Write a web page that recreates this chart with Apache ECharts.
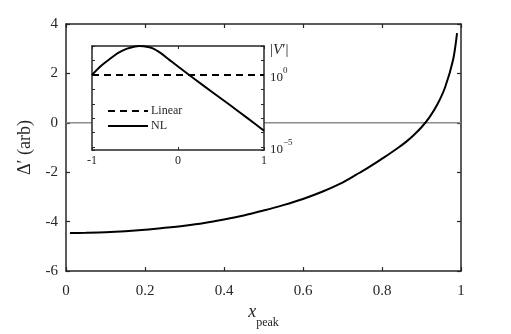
<!DOCTYPE html>
<html>
<head>
<meta charset="utf-8">
<script src="https://cdn.jsdelivr.net/npm/echarts@6/dist/echarts.min.js"></script>
<style>
  html, body { margin: 0; padding: 0; background: #fff; }
  #main { width: 511px; height: 334px; }
</style>
</head>
<body>
<div id="main"></div>
<script>
// main curve: Delta' vs x_peak
var xPeak = [0.01, 0.05, 0.1, 0.15, 0.2, 0.25, 0.3, 0.35, 0.4, 0.45, 0.5, 0.55, 0.6, 0.65, 0.7,
             0.72, 0.74, 0.76, 0.78, 0.8, 0.82, 0.84, 0.86, 0.88, 0.9, 0.92, 0.94, 0.96, 0.98, 0.99];
var deltaP = [-4.46, -4.45, -4.43, -4.39, -4.33, -4.25, -4.16, -4.05, -3.91, -3.75, -3.55, -3.33, -3.08, -2.78, -2.42,
              -2.24, -2.05, -1.86, -1.66, -1.45, -1.24, -1.02, -0.78, -0.5, -0.18, 0.22, 0.74, 1.45, 2.55, 3.63];
var zeroX = [0, 1];
var zeroY = [0, 0];

// inset: |V'| (log) vs x
var insetX = [-1, -0.9, -0.8, -0.7, -0.6, -0.5, -0.45, -0.4, -0.3, -0.2, -0.1, 0, 0.2, 0.4, 0.6, 0.8, 1];
var nlV = [1, 4, 11.7, 32, 63, 93, 100, 95, 71, 32, 11, 3.8, 0.48, 0.063, 0.0085, 0.0011, 1.35e-4];
var linX = [-1, 1];
var linV = [1, 1];

function pairs(a, b) {
    return a.map(function(v, i) { return [v, b[i]]; });
}

var ink = '#262626';
var serif = 'Liberation Serif';

var chart = echarts.init(document.getElementById('main'));

var option = {
    backgroundColor: '#fff',
    animation: false,
    textStyle: { fontFamily: serif, color: ink },
    grid: [
        { left: 66, top: 24, width: 395, height: 254, show: false },
        { left: 92, top: 46, width: 172, height: 104, show: true, backgroundColor: '#fff', borderWidth: 0, z: 3 }
    ],
    legend: {
        z: 10,
        left: 102, top: 100,
        orient: 'vertical',
        itemWidth: 40, itemHeight: 14, itemGap: 3,
        itemStyle: { opacity: 0 },
        textStyle: { fontFamily: serif, fontSize: 12, color: ink, padding: [0, 0, 0, -2] },
        data: ['Linear', 'NL']
    },
    xAxis: [
        {   // main bottom
            gridIndex: 0, type: 'value', min: 0, max: 1, interval: 0.2,
            name: '{i|x}{s|peak}', nameLocation: 'middle', nameGap: 30,
            nameTextStyle: {
                rich: {
                    i: { fontFamily: serif, fontStyle: 'italic', fontSize: 18, color: ink, verticalAlign: 'top', lineHeight: 20 },
                    s: { fontFamily: serif, fontSize: 12, color: ink, verticalAlign: 'bottom', lineHeight: 26 }
                }
            },
            axisLine: { onZero: false, lineStyle: { color: ink, width: 1.5 } },
            axisTick: { inside: true, length: 4, lineStyle: { color: ink, width: 1.2 } },
            axisLabel: { fontSize: 15, color: ink, margin: 12, fontFamily: serif },
            splitLine: { show: false }
        },
        {   // main top
            gridIndex: 0, type: 'value', min: 0, max: 1, interval: 0.2, position: 'top',
            axisLine: { onZero: false, lineStyle: { color: ink, width: 1.5 } },
            axisTick: { inside: true, length: 4, lineStyle: { color: ink, width: 1.2 } },
            axisLabel: { show: false },
            splitLine: { show: false }
        },
        {   // inset bottom
            gridIndex: 1, type: 'value', min: -1, max: 1, interval: 1, z: 4,
            axisLine: { onZero: false, lineStyle: { color: ink, width: 1.5 } },
            axisTick: { inside: true, length: 3, lineStyle: { color: ink, width: 1 } },
            axisLabel: { fontSize: 12, color: ink, margin: 5, fontFamily: serif },
            splitLine: { show: false }
        },
        {   // inset top
            gridIndex: 1, type: 'value', min: -1, max: 1, interval: 1, position: 'top', z: 4,
            axisLine: { onZero: false, lineStyle: { color: ink, width: 1.5 } },
            axisTick: { inside: true, length: 3, lineStyle: { color: ink, width: 1 } },
            axisLabel: { show: false },
            splitLine: { show: false }
        }
    ],
    yAxis: [
        {   // main left
            gridIndex: 0, type: 'value', min: -6, max: 4, interval: 2,
            name: "\u0394\u2032 (arb)", nameLocation: 'middle', nameGap: 32, nameRotate: 90,
            nameTextStyle: { fontFamily: serif, fontSize: 18, color: ink },
            axisLine: { onZero: false, lineStyle: { color: ink, width: 1.5 } },
            axisTick: { inside: true, length: 4, lineStyle: { color: ink, width: 1.2 } },
            axisLabel: { fontSize: 15, color: ink, margin: 8, fontFamily: serif },
            splitLine: { show: false }
        },
        {   // main right
            gridIndex: 0, type: 'value', min: -6, max: 4, interval: 2, position: 'right',
            axisLine: { onZero: false, lineStyle: { color: ink, width: 1.5 } },
            axisTick: { inside: true, length: 4, lineStyle: { color: ink, width: 1.2 } },
            axisLabel: { show: false },
            splitLine: { show: false }
        },
        {   // inset right with labels
            gridIndex: 1, type: 'log', logBase: 10, min: 6.3e-6, max: 100, position: 'right', z: 4,
            name: '|{v|V}\u2032|', nameLocation: 'end', nameGap: 2,
            nameTextStyle: {
                fontFamily: serif, fontSize: 15, color: ink, align: 'left', padding: [0, 0, -14, 6],
                rich: { v: { fontFamily: serif, fontStyle: 'italic', fontSize: 15, color: ink } }
            },
            axisLine: { onZero: false, lineStyle: { color: ink, width: 1.5 } },
            axisTick: { inside: true, length: 3, lineStyle: { color: ink, width: 1 } },
            axisLabel: {
                margin: 6, color: ink,
                formatter: function(v) {
                    var e = Math.round(Math.log10(v));
                    if (Math.abs(Math.log10(v) - e) > 1e-6) return '';
                    if (e === 0) return '{b|10}{p|0}';
                    if (e === -5) return '{b|10}{p|\u22125}';
                    return '';
                },
                rich: {
                    b: { fontFamily: serif, fontSize: 13, color: ink, verticalAlign: 'bottom', lineHeight: 18 },
                    p: { fontFamily: serif, fontSize: 9, color: ink, verticalAlign: 'top', lineHeight: 18 }
                }
            },
            splitLine: { show: false }
        },
        {   // inset left
            gridIndex: 1, type: 'log', logBase: 10, min: 6.3e-6, max: 100, position: 'left', z: 4,
            axisLine: { onZero: false, lineStyle: { color: ink, width: 1.5 } },
            axisTick: { inside: true, length: 3, lineStyle: { color: ink, width: 1 } },
            axisLabel: { show: false },
            splitLine: { show: false }
        }
    ],
    series: [
        {
            name: 'zero', type: 'line', xAxisIndex: 0, yAxisIndex: 0, z: 1,
            data: pairs(zeroX, zeroY), symbol: 'none',
            lineStyle: { color: '#8c8c8c', width: 1.5 }
        },
        {
            name: 'delta', type: 'line', xAxisIndex: 0, yAxisIndex: 0, z: 2,
            data: pairs(xPeak, deltaP), symbol: 'none', smooth: 0.3,
            lineStyle: { color: '#000', width: 2 }
        },
        {
            name: 'Linear', type: 'line', xAxisIndex: 2, yAxisIndex: 2, z: 5,
            data: pairs(linX, linV), symbol: 'none',
            lineStyle: { color: '#000', width: 2, type: [7, 5] },
            itemStyle: { color: '#000' }
        },
        {
            name: 'NL', type: 'line', xAxisIndex: 2, yAxisIndex: 2, z: 5,
            data: pairs(insetX, nlV), symbol: 'none', smooth: 0.3,
            lineStyle: { color: '#000', width: 2 },
            itemStyle: { color: '#000' }
        }
    ]
};

chart.setOption(option);
</script>
</body>
</html>
